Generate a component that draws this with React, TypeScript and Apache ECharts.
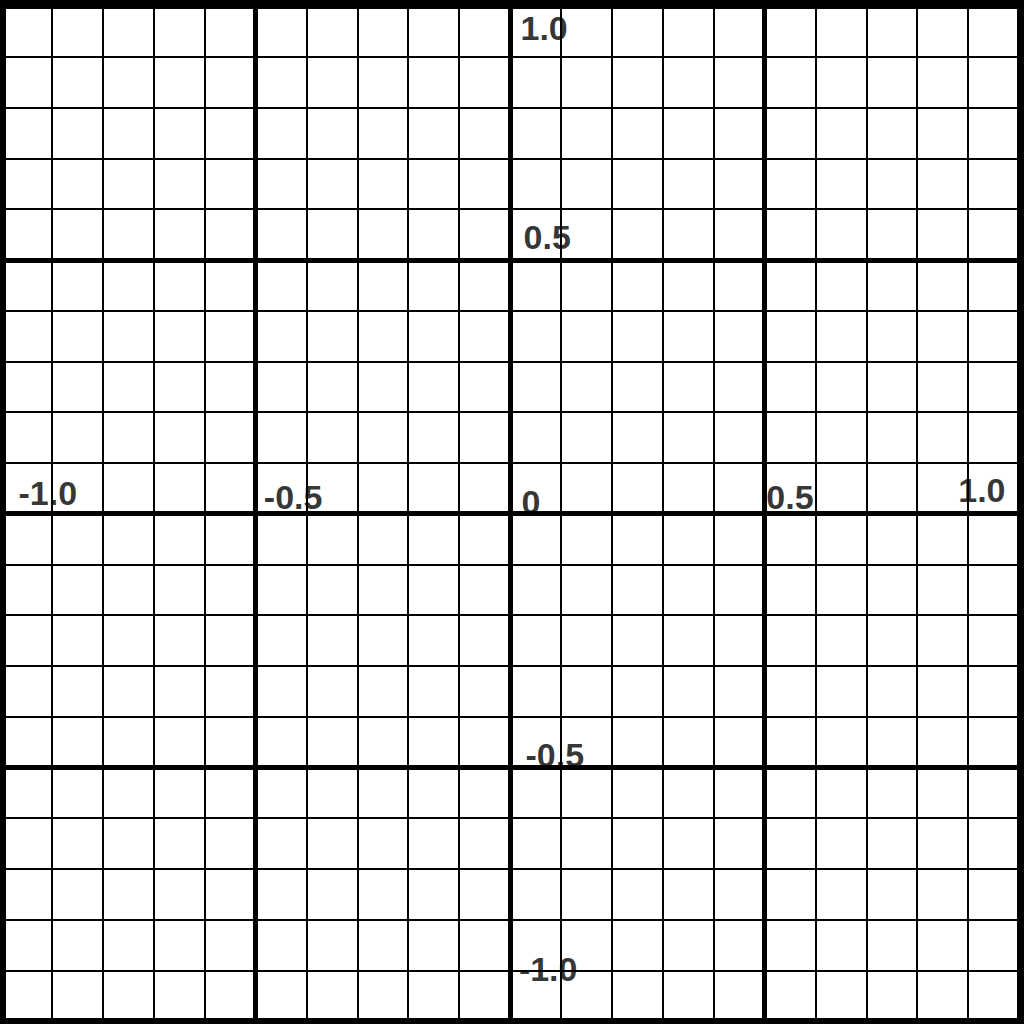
import React, { useEffect, useRef } from "react";
import * as echarts from "echarts";

const axisMin = -1;
const axisMax = 1;
const minorStep = 0.1;
const majorStep = 0.5;

const xLabelTexts = ["-1.0", "-0.5", "0", "0.5", "1.0"];
const xLabelX = [-0.908, -0.426, 0.041, 0.55, 0.927];
const xLabelY = [0.04, 0.032, 0.023, 0.032, 0.046];

const yLabelTexts = ["1.0", "0.5", "-0.5", "-1.0"];
const yLabelX = [0.067, 0.073, 0.088, 0.075];
const yLabelY = [0.957, 0.545, -0.476, -0.898];

export default function App() {
  const ref = useRef<HTMLDivElement>(null);
  useEffect(() => {
    document.body.style.margin = "0";
    if (!ref.current) return;
    const chart = echarts.init(ref.current, undefined, { renderer: "svg" });
    const labelData: any[] = [];
    xLabelTexts.forEach((t, i) => labelData.push([xLabelX[i], xLabelY[i], t]));
    yLabelTexts.forEach((t, i) => labelData.push([yLabelX[i], yLabelY[i], t]));
    const mkAxis = (step: number, width: number, z: number) => ({
      type: "value",
      min: axisMin,
      max: axisMax,
      interval: step,
      axisLine: { show: false },
      axisTick: { show: false },
      axisLabel: { show: false },
      splitLine: { show: true, lineStyle: { color: "#000", width } },
      z,
    });
    chart.setOption({
      animation: false,
      backgroundColor: "#fff",
      grid: {
        left: 1,
        right: 5,
        top: 6,
        bottom: 3,
        show: false,
      },
      graphic: [
        {
          type: "rect",
          z: 100,
          shape: { x: 3, y: 3, width: 1018, height: 1018 },
          style: { fill: "none", stroke: "#000", lineWidth: 6 },
        },
      ],
      xAxis: [mkAxis(minorStep, 2, 1), mkAxis(majorStep, 5, 2)],
      yAxis: [mkAxis(minorStep, 2, 1), mkAxis(majorStep, 5, 2)],
      series: [
        {
          type: "scatter",
          xAxisIndex: 0,
          yAxisIndex: 0,
          symbolSize: 0,
          data: labelData,
          z: 20,
          label: {
            show: true,
            position: "inside",
            formatter: (p: any) => p.data[2],
            fontFamily: "Liberation Sans",
            fontWeight: "bold",
            fontSize: 34,
            color: "#000",
            textBorderWidth: 0,
          },
        },
      ],
    });
    return () => chart.dispose();
  }, []);
  return <div ref={ref} style={{ width: 1024, height: 1024 }} />;
}
